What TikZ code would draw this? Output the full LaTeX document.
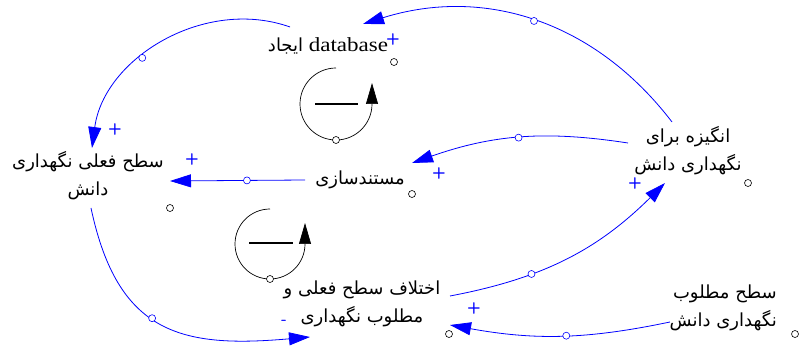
\documentclass[tikz,border=0pt]{standalone}
\usepackage{fontspec}
\newfontfamily\fa[Script=Arabic]{DejaVu Sans}
\newfontfamily\lat[FakeStretch=1.15]{Liberation Serif}
\TeXXeTstate=1
\usetikzlibrary{arrows.meta}
\definecolor{vblue}{RGB}{0,0,255}

\begin{document}
\begin{tikzpicture}[x=1pt,y=1pt,
	var/.style={inner sep=0pt,align=center,font=\fa\fontsize{18}{28}\selectfont},
	link/.style={vblue,line width=0.8pt,-{Triangle[length=21pt,width=13pt]}},
	hnd/.style={circle,draw,fill=white,inner sep=0pt,minimum size=7pt,line width=0.6pt},
	bhnd/.style={hnd,draw=vblue},
	pol/.style={vblue,inner sep=0pt,font=\sffamily\bfseries\fontsize{16}{16}\selectfont},
	loopline/.style={line width=0.7pt,-{Triangle[length=21pt,width=12pt]}}]
	\useasboundingbox (0,0) rectangle (799,345);
	
	% variables
	\node[var] (ejad) at (328,299) {\beginR ایجاد\endR{} {\lat\fontsize{20}{20}\selectfont database}};
	\node[var] (sath) at (88,169) {\beginR سطح فعلی نگهداری\endR\\\beginR دانش\endR};
	\node[var] (mostanad) at (360,165) {\beginR مستندسازی\endR};
	\node[var] (angize) at (688,194) {\beginR انگیزه برای\endR\\\beginR نگهداری دانش\endR};
	\node[var] (ekhtelaf) at (362,41) {\beginR اختلاف سطح فعلی و\endR\\\beginR مطلوب نگهداری\endR};
	\node[var,align=right,anchor=east] (motlub) at (777,37) {\beginR سطح مطلوب\endR\\\beginR نگهداری دانش\endR};
	
	\node[hnd] (ejadh) at (394,283) {};
	\node[hnd] (sathh) at (170,137) {};
	\node[hnd] (mostanadh) at (412,151) {};
	\node[hnd] (angizeh) at (748,162) {};
	\node[hnd] (ekhtelafh) at (449,11) {};
	\node[hnd] (motlubh) at (795,11) {};
	
	% links
	\draw[link] ([shift={(-16,29)}]angize.center) to[bend right=35] node[bhnd,pos=0.5] (m1) {} ([shift={(35,22)}]ejad.center);
	\draw[link] ([shift={(-38,19)}]ejad.center) to[bend right=51] node[bhnd,pos=0.6] (m2) {} ([shift={(4,28)}]sath.center);
	\draw[link] ([shift={(-60,8)}]angize.center) to[bend right=14] node[bhnd,pos=0.5] (m3) {} ([shift={(52,17)}]mostanad.center);
	\draw[link] ([shift={(-55,0)}]mostanad.center) -- node[bhnd,pos=0.43] (m4) {} ([shift={(82,-5)}]sath.center);
	\draw[link] ([shift={(3,-32)}]sath.center) to[out=-78,in=185,looseness=1.3] node[bhnd,pos=0.45] (m5) {} ([shift={(-52,-33)}]ekhtelaf.center);
	\draw[link] ([shift={(88,8)}]ekhtelaf.center) to[bend right=17] node[bhnd,pos=0.33] (m6) {} ([shift={(-23,-32)}]angize.center);
	\draw[link] ([shift={(-107,-14)}]motlub.east) to[bend left=11] node[bhnd,pos=0.47] (m7) {} ([shift={(88,-21)}]ekhtelaf.center);
	
	\node[pol] (p1) at (393,305) {+};
	\node[pol] (p2) at (115,215) {+};
	\node[pol] (p3) at (439,171) {+};
	\node[pol] (p4) at (192,185) {+};
	\node[pol] (p5) at (284,23) {-};
	\node[pol] (p6) at (635,161) {+};
	\node[pol] (p7) at (474,37) {+};
	
	% loops
	\draw[loopline] (336,277) arc[start angle=90,end angle=360,radius=36] -- ++(0,21);
	\draw[line width=2.5pt] (315,241) -- (358,241);
	\node[hnd] (loop1) at (336,205) {};
	\draw[loopline] (270,136) arc[start angle=90,end angle=360,radius=35] -- ++(0,21);
	\draw[line width=2.5pt] (249,102) -- (293,102);
	\node[hnd] (loop2) at (270,66) {};
\end{tikzpicture}
\end{document}
